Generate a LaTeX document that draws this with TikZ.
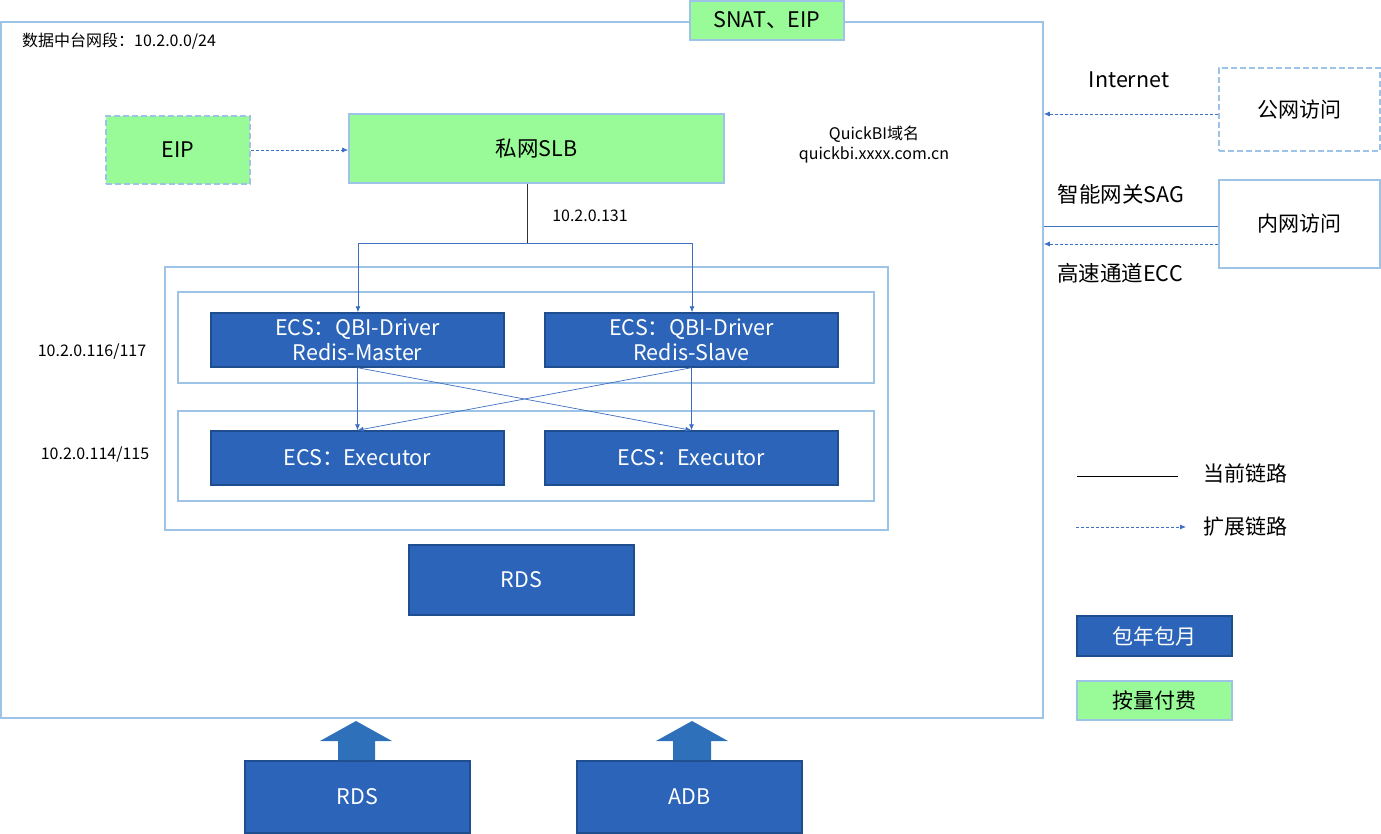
\documentclass[tikz,border=0pt]{standalone}
\usepackage{fontspec}
\setmainfont{Noto Sans CJK SC}
\usetikzlibrary{arrows.meta}
\definecolor{lb}{HTML}{9DC3E6}
\definecolor{gfill}{HTML}{98FB98}
\definecolor{dbfill}{HTML}{2B64B8}
\definecolor{dbdraw}{HTML}{1F4E8F}
\definecolor{cblue}{HTML}{3D6FC2}
\definecolor{abl}{HTML}{2F70BA}
\tikzset{
  frame/.style={draw=lb, line width=1.6pt},
  gbox/.style={draw=lb, line width=1.6pt, fill=gfill, inner sep=0pt, font=\fontsize{21.5}{24}\selectfont},
  dbox/.style={draw=dbdraw, line width=1.4pt, fill=dbfill, text=white, inner sep=0pt, align=center, font=\fontsize{21.5}{27}\selectfont},
  wbox/.style={draw=lb, line width=1.6pt, fill=white, inner sep=0pt, font=\fontsize{21}{24}\selectfont},
  lbl/.style={inner sep=0pt, font=\fontsize{16}{20}\selectfont, align=center},
  blbl/.style={inner sep=0pt, font=\fontsize{21.5}{24}\selectfont},
  conn/.style={draw=cblue, line width=0.7pt, -{Latex[length=6pt,width=5pt]}},
  dconn/.style={draw=cblue, line width=0.8pt, dash pattern=on 3pt off 2pt, -{Latex[length=6pt,width=5pt]}},
}
\begin{document}
\begin{tikzpicture}[x=1pt,y=-1pt]
\useasboundingbox (0,0) rectangle (1381,834);
% outer frame
\node[frame, minimum width=1042pt, minimum height=696pt, inner sep=0pt] (outer) at (522,370) {};
\node[gbox, minimum width=154pt, minimum height=39pt] (snat) at (767,20.5) {SNAT、EIP};
\node[lbl, anchor=west] (seg) at (22,41) {数据中台网段：10.2.0.0/24};
% EIP and SLB
\node[gbox, dashed, dash pattern=on 6pt off 3pt, minimum width=144pt, minimum height=68pt] (eip) at (178,150) {EIP};
\node[gbox, minimum width=375pt, minimum height=69pt] (slb) at (536.5,148.5) {私网SLB};
\draw[dconn] (eip.east) -- (slb.west |- eip.east);
\node[lbl] (qbi) at (874,145) {QuickBI域名\\quickbi.xxxx.com.cn};
% cluster frames
\node[frame, minimum width=723pt, minimum height=263pt, inner sep=0pt] (cluster) at (526.5,398.5) {};
\node[frame, minimum width=696pt, minimum height=91pt, inner sep=0pt] (row1) at (526,337.5) {};
\node[frame, minimum width=696pt, minimum height=90pt, inner sep=0pt] (row2) at (526,456) {};
% ECS boxes
\node[dbox, minimum width=293pt, minimum height=54pt] (m) at (357.5,340) {ECS：QBI-Driver\\[-2pt]Redis-Master};
\node[dbox, minimum width=293pt, minimum height=54pt] (s) at (691.5,340) {ECS：QBI-Driver\\[-2pt]Redis-Slave};
\node[dbox, minimum width=293pt, minimum height=54pt] (e1) at (357.5,458) {ECS：Executor};
\node[dbox, minimum width=293pt, minimum height=54pt] (e2) at (691.5,458) {ECS：Executor};
% SLB to drivers
\coordinate (j) at (527,243);
\draw[line width=0.8pt, draw=black!80] (slb.south -| j) -- (j);
\draw[conn] (j) -- (358,243) -- ([xshift=0.5pt]m.north);
\draw[conn] (j) -- (692,243) -- ([xshift=0.5pt]s.north);
\node[lbl] (ip131) at (590,216) {10.2.0.131};
% drivers to executors
\draw[conn] (m.south) -- (e1.north);
\draw[conn] (s.south) -- (e2.north);
\draw[conn] (m.south) -- (e2.north);
\draw[conn] (s.south) -- (e1.north);
\node[lbl] (ip116) at (92,352) {10.2.0.116/117};
\node[lbl] (ip114) at (95,455) {10.2.0.114/115};
% RDS inside
\node[dbox, minimum width=225pt, minimum height=70pt] (rds) at (521.5,580) {RDS};
% bottom sources
\node[dbox, minimum width=225pt, minimum height=72pt] (rdsb) at (357.5,797) {RDS};
\node[dbox, minimum width=225pt, minimum height=72pt] (adb) at (689.5,797) {ADB};
\fill[abl] (338,760) -- (338,741) -- (320,741) -- (356,721) -- (392,741) -- (375,741) -- (375,760) -- cycle;
\fill[abl] (673,760) -- (673,741) -- (656,741) -- (692,721) -- (728,741) -- (711,741) -- (711,760) -- cycle;
% right side access
\node[wbox, dashed, dash pattern=on 6pt off 3pt, minimum width=161pt, minimum height=83pt] (pub) at (1299.5,109.5) {公网访问};
\node[wbox, minimum width=161pt, minimum height=88pt] (priv) at (1299.5,224) {内网访问};
\node[blbl] (inet) at (1129,80) {Internet};
\node[blbl] (sag) at (1121,194) {智能网关SAG};
\node[blbl] (ecc) at (1120,273) {高速通道ECC};
\draw[dconn] (pub.west |- 0,114) -- (outer.east |- 0,114);
\draw[draw=cblue, line width=0.8pt] (priv.west |- 0,226) -- (outer.east |- 0,226);
\draw[dconn] (priv.west |- 0,244) -- (outer.east |- 0,244);
% legend
\coordinate (l1a) at (1077,476);
\coordinate (l1b) at (1178,476);
\draw[line width=0.8pt] (l1a) -- (l1b);
\node[blbl, font=\fontsize{21}{24}\selectfont] (cur) at (1245,473) {当前链路};
\coordinate (l2a) at (1076,527);
\coordinate (l2b) at (1186,527);
\draw[dconn] (l2a) -- (l2b);
\node[blbl, font=\fontsize{21}{24}\selectfont] (ext) at (1245,527) {扩展链路};
\node[dbox, minimum width=155pt, minimum height=40pt, font=\fontsize{21}{24}\selectfont] (lg1) at (1154.5,636) {包年包月};
\node[gbox, minimum width=155pt, minimum height=39pt, font=\fontsize{21}{24}\selectfont] (lg2) at (1154.5,700.5) {按量付费};
\end{tikzpicture}
\end{document}
